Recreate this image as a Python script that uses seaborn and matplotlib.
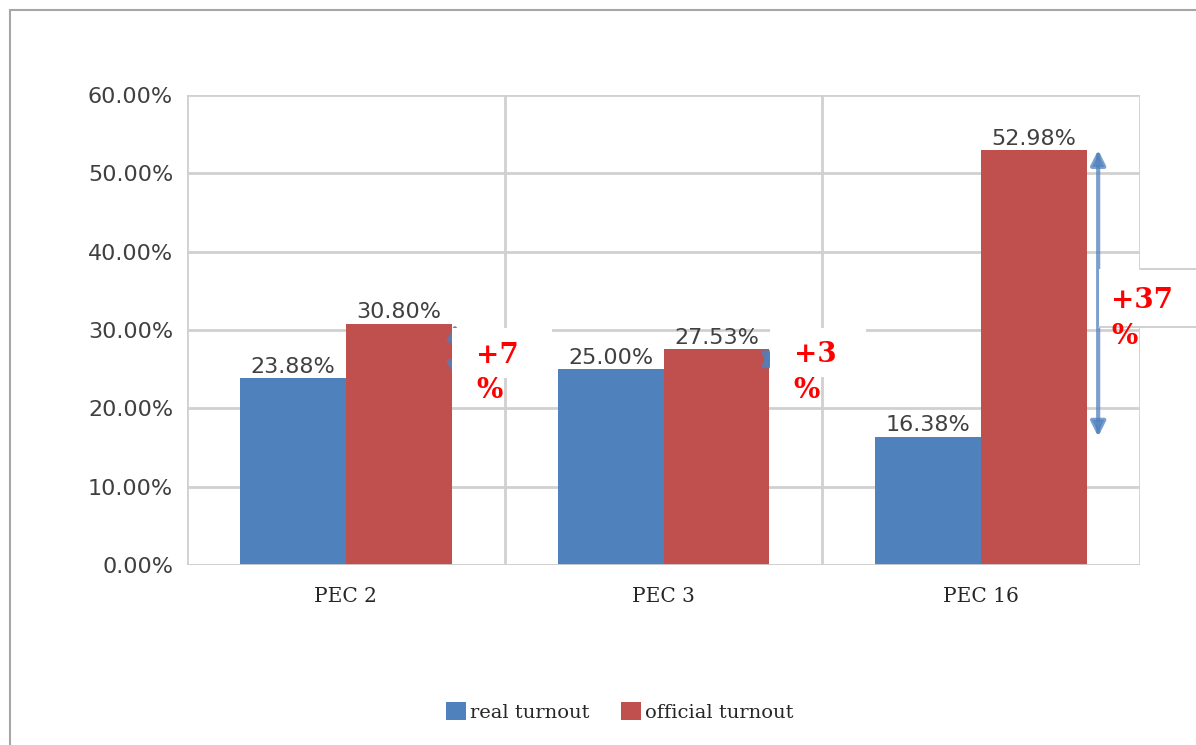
import pandas as pd
import seaborn as sns
import matplotlib.pyplot as plt
from matplotlib.patches import Rectangle, Patch
from matplotlib.ticker import FuncFormatter

# chart data
stations = ['PEC 2', 'PEC 3', 'PEC 16']
real_turnout = [23.88, 25.00, 16.38]
official_turnout = [30.80, 27.53, 52.98]
gap_labels = ['+7\n%', '+3\n%', '+37\n%']
series = ['real turnout', 'official turnout']
yticks = [0, 10, 20, 30, 40, 50, 60]

colors = ['#4f81bd', '#c0504d']
grid_col = '#d0d0d0'
text_col = '#404040'

df = pd.DataFrame({
    'station': stations * 2,
    'series': [series[0]] * len(stations) + [series[1]] * len(stations),
    'turnout': real_turnout + official_turnout,
})

sns.set_style('white')
plt.rcParams['font.family'] = ['DejaVu Sans']

W, H = 1196, 745
fig = plt.figure(figsize=(W / 100, H / 100), dpi=100)
ax = fig.add_axes([187 / W, 1 - 565 / H, (1140 - 187) / W, (565 - 95) / H])

sns.barplot(data=df, x='station', y='turnout', hue='series', hue_order=series,
            palette=colors, width=2 / 3, saturation=1, errorbar=None,
            linewidth=0, legend=False, ax=ax, zorder=2)

# axes / grid
ax.set_xlim(-0.5, len(stations) - 0.5)
ax.set_ylim(0, 60)
ax.set_yticks(yticks)
ax.yaxis.set_major_formatter(FuncFormatter(lambda v, p: f'{v:.2f}%'))
ax.grid(axis='y', color=grid_col, lw=2, zorder=0)
ax.set_axisbelow(True)
for xb in range(len(stations) + 1):
    ax.axvline(xb - 0.5, color=grid_col, lw=2, zorder=0.5)
for s in ax.spines.values():
    s.set_visible(False)
ax.axhline(0, color=grid_col, lw=2, zorder=3)
ax.set_xlabel('')
ax.set_ylabel('')
ax.tick_params(axis='y', length=0, pad=10, labelsize=16, labelcolor=text_col)
ax.tick_params(axis='x', length=0, pad=16, labelcolor='#262626')
for t in ax.get_xticklabels():
    t.set_family('DejaVu Serif')
    t.set_fontsize(14.5)

# value labels
for cont in ax.containers:
    ax.bar_label(cont, fmt='%.2f%%', padding=1, fontsize=16, color=text_col)

# difference arrows and boxes
arrow_dx = [0.01, 0.0, 0.035]
boxes = [(0.334, 23.9, 0.315, 6.4), (1.334, 24.0, 0.302, 6.3), (2.37, 30.4, 0.6, 7.4)]
for i in range(len(stations)):
    x = i + 1 / 3 + arrow_dx[i]
    ax.annotate('', xy=(x, official_turnout[i]), xytext=(x, real_turnout[i]),
                arrowprops=dict(arrowstyle='<|-|>', color='#4f81bd', lw=3,
                                alpha=0.75, mutation_scale=22,
                                shrinkA=0, shrinkB=0),
                zorder=4, annotation_clip=False)
    bx, by, bw, bh = boxes[i]
    ax.add_patch(Rectangle((bx, by), bw, bh, facecolor='white', edgecolor='none',
                           zorder=5, clip_on=False))
    if i == 2:
        # faint outline of the callout outside the plot area
        ax.plot([2.5, bx + bw], [by + bh] * 2, color='#c8c8c8', lw=1.2,
                zorder=5, clip_on=False)
        ax.plot([bx, bx + bw], [by] * 2, color='#c8c8c8', lw=1.2,
                zorder=5, clip_on=False)
    ax.text(i + 0.41, by + bh / 2 - 2.6, gap_labels[i], ha='left', va='center',
            color='#ff0000', fontsize=20, fontweight='bold',
            family='DejaVu Serif', linespacing=1.42, zorder=6, clip_on=False)

# legend
handles = [Patch(facecolor=c, edgecolor='none') for c in colors]
fig.legend(handles, series, loc='center', bbox_to_anchor=(620 / W, 1 - 712 / H),
           ncol=2, frameon=False, handlelength=1.0, handleheight=1.0,
           handletextpad=0.25, columnspacing=1.6,
           prop={'family': 'DejaVu Serif', 'size': 14})

# outer chart frame
fig.add_artist(Rectangle((10 / W, -0.1), 1.2, 1.1 - 10 / H, transform=fig.transFigure,
                         fill=False, edgecolor='#a6a6a6', lw=1.5))

fig.savefig('out.png', dpi=100)
plt.close(fig)
